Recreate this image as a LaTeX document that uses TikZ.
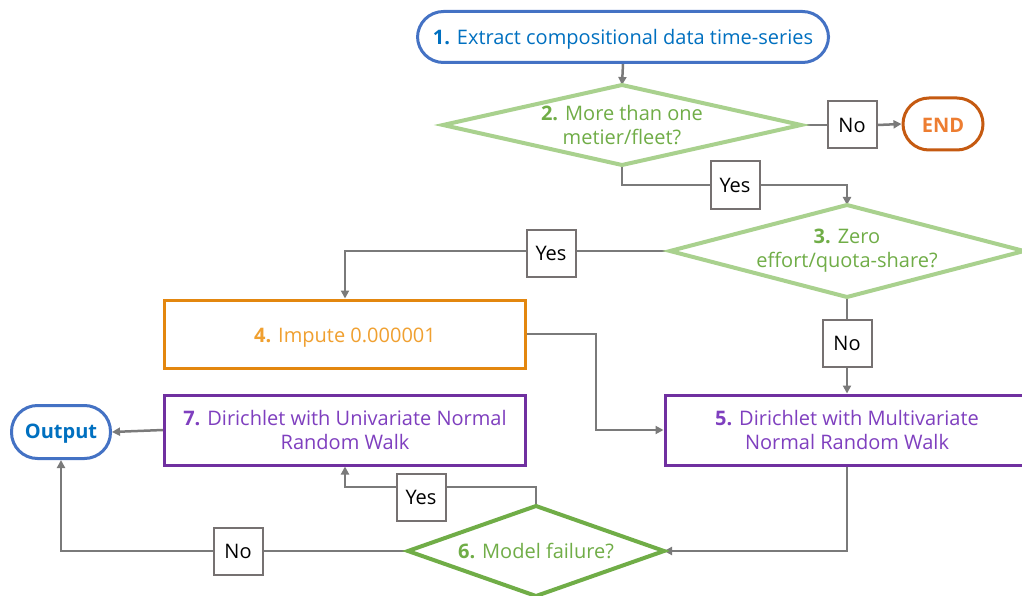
\documentclass[tikz,border=0pt]{standalone}
\usepackage{fontspec}
\setmainfont{Open Sans}
\usetikzlibrary{arrows.meta}
\definecolor{cblue}{HTML}{4472C4}
\definecolor{tblue}{HTML}{0070C0}
\definecolor{lgreen}{HTML}{A9D18E}
\definecolor{tgreen}{HTML}{70AD47}
\definecolor{dgreen}{HTML}{70AD47}
\definecolor{corange}{HTML}{E3870F}
\definecolor{torange}{HTML}{F0A030}
\definecolor{cend}{HTML}{C55A11}
\definecolor{tend}{HTML}{ED7D31}
\definecolor{cpurple}{HTML}{7030A0}
\definecolor{tpurple}{HTML}{7F3FBF}
\definecolor{cgray}{HTML}{767171}
\definecolor{lgray}{HTML}{7A7A7A}
\pgfdeclarelayer{bg}
\pgfdeclarelayer{mid}
\pgfsetlayers{bg,mid,main}
\newcommand{\lowered}[2]{\raisebox{-#1}[\height][\depth]{#2}}
\tikzset{
  txt/.style={font=\fontsize{20}{24}\selectfont, align=center, inner sep=0pt},
  stadium/.style={txt, draw=cblue, line width=3pt, fill=white, text=tblue, rounded corners=26pt},
  dia/.style={txt, rectangle, outer sep=0pt, text=tgreen},
  diashape/.style={draw=lgreen, line width=4pt, fill=white, line join=miter},
  procbox/.style={txt, rectangle, line width=3pt, fill=white},
  lab/.style={rectangle, draw=cgray, line width=2pt, fill=white, font=\fontsize{20}{24}\selectfont, minimum width=49pt, minimum height=47pt, inner sep=0pt},
  conn/.style={draw=lgray, line width=2.5pt},
  arr/.style={conn, -{Triangle[length=8pt,width=8pt]}}
}
\begin{document}
\begin{tikzpicture}[x=1pt,y=-1pt]
\useasboundingbox (0,0) rectangle (1022,596);
\node[stadium, minimum width=411pt, minimum height=51pt] (n1) at (623,37) {\lowered{2pt}{\textbf{1.} Extract compositional data time-series}};
\node[dia, minimum width=358pt, minimum height=80pt] (d2) at (622,125) {\textbf{2.} More than one\\metier/fleet?};
\node[lab] (no1) at (852,125) {No};
\node[stadium, draw=cend, text=tend, minimum width=80pt, minimum height=52pt] (end) at (943,124) {\lowered{1pt}{\textbf{END}}};
\node[lab] (yes1) at (735,185) {Yes};
\node[dia, minimum width=354pt, minimum height=92pt] (d3) at (847,251) {\textbf{3.} Zero\\effort/quota-share?};
\node[lab] (yes2) at (551,253) {Yes};
\node[procbox, draw=corange, text=torange, minimum width=361pt, minimum height=68pt] (b4) at (345,334) {\lowered{4pt}{\textbf{4.} Impute 0.000001}};
\node[lab] (no2) at (847,343) {No};
\node[procbox, draw=cpurple, text=tpurple, minimum width=364pt, minimum height=70pt] (b5) at (847,430) {\textbf{5.} Dirichlet with Multivariate\\Normal Random Walk};
\node[procbox, draw=cpurple, text=tpurple, minimum width=361pt, minimum height=70pt] (b7) at (345,430) {\textbf{7.} Dirichlet with Univariate Normal\\Random Walk};
\node[stadium, minimum width=99pt, minimum height=53pt] (out) at (61,432) {\lowered{2pt}{\textbf{Output}}};
\node[dia, minimum width=256pt, minimum height=90pt] (d6) at (536,551) {\textbf{6.} Model failure?};
\node[lab] (yes3) at (421,497) {Yes};
\node[lab] (no3) at (238,551) {No};
\begin{pgfonlayer}{mid}
\draw[diashape] (d2.north) -- (d2.east) -- (d2.south) -- (d2.west) -- cycle;
\draw[diashape] (d3.north) -- (d3.east) -- (d3.south) -- (d3.west) -- cycle;
\draw[diashape, draw=dgreen] (d6.north) -- (d6.east) -- (d6.south) -- (d6.west) -- cycle;
\end{pgfonlayer}
\begin{pgfonlayer}{bg}
\draw[arr] (n1.south) -- (d2.north);
\draw[conn] (d2.east) -- (no1.west);
\draw[arr] (no1.east) -- (end.west);
\draw[conn] (d2.south) |- (yes1.west);
\draw[arr] (yes1.east) -| (d3.north);
\draw[conn] (d3.west) -- (d3.west -| yes2.east);
\draw[arr] (yes2.west |- d3.west) -| (b4.north);
\draw[conn] (d3.south) -- (no2.north);
\draw[arr] (no2.south) -- (b5.north);
\draw[arr] (b4.east) -- ++(69,0) |- (b5.west);
\draw[arr] (b5.south) |- (d6.east);
\draw[arr] (d6.north) -- ++(0,-19) -| (b7.south);
\draw[arr] (d6.west) -| (out.south);
\draw[arr] (b7.west) -- (out.east);
\end{pgfonlayer}
\end{tikzpicture}
\end{document}
